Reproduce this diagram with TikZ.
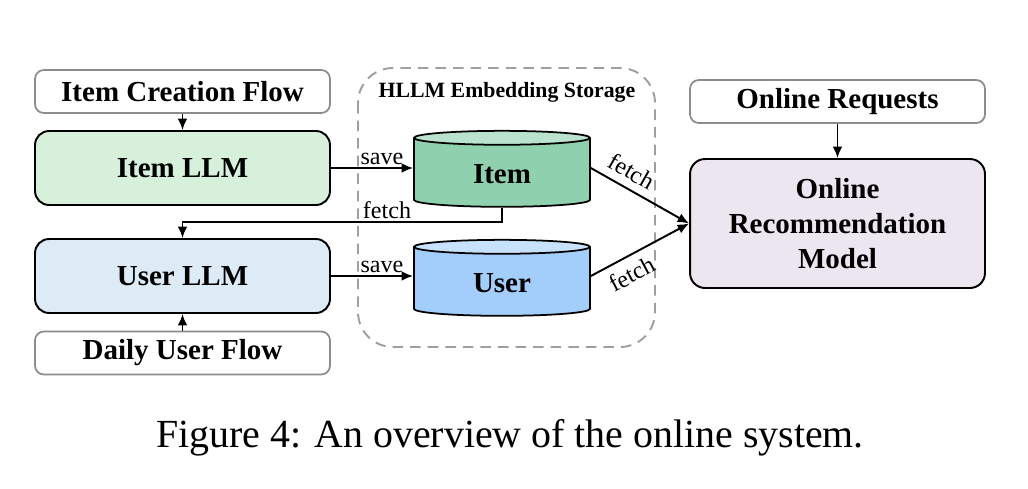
\documentclass[tikz,border=0pt]{standalone}
\usepackage{fontspec}
\setmainfont{Liberation Serif}
\usetikzlibrary{arrows.meta,shapes.geometric,calc}
\definecolor{itemfill}{RGB}{214,240,219}
\definecolor{userfill}{RGB}{221,235,247}
\definecolor{modelfill}{RGB}{236,230,240}
\definecolor{itembody}{RGB}{143,208,175}
\definecolor{itemtop}{RGB}{186,227,207}
\definecolor{userbody}{RGB}{163,206,252}
\definecolor{usertop}{RGB}{199,226,252}
\begin{document}
\begin{tikzpicture}[x=0.02cm,y=-0.02cm,>={Latex[length=6.5pt,width=5.5pt]},
  flow/.style={draw=gray!90,line width=1pt,rounded corners=5pt,fill=white,
    minimum width=5.9cm,minimum height=0.86cm,font=\fontsize{16.5}{19}\selectfont\bfseries},
  llm/.style={draw=black,line width=1.1pt,rounded corners=8pt,
    minimum width=5.9cm,minimum height=1.48cm,font=\fontsize{16.5}{19}\selectfont\bfseries},
  db/.style={cylinder,shape border rotate=90,aspect=0.2,draw,line width=1pt,
    minimum width=3.52cm,minimum height=1.52cm,cylinder uses custom fill,
    font=\fontsize{16.5}{19}\selectfont\bfseries},
  lbl/.style={font=\fontsize{13.7}{16}\selectfont,inner sep=1.5pt},
  conn/.style={line width=1.1pt,->}]
  \useasboundingbox (0,0) rectangle (1028,488);
  % storage frame
  \draw[gray!75,line width=1.1pt,dash pattern=on 6pt off 4pt,rounded corners=0.7cm]
    (358,68) rectangle (655,347);
  \node[font=\fontsize{12.4}{15}\selectfont\bfseries] (storage) at (507,92) {HLLM Embedding Storage};
  % left column
  \node[flow] (itemflow) at (182.5,91.5) {Item Creation Flow};
  \node[llm,fill=itemfill] (itemllm) at (182.5,168) {Item LLM};
  \node[llm,fill=userfill] (userllm) at (182.5,276) {User LLM};
  \node[flow] (userflow) at (182.5,353) {Daily User Flow};
  % databases
  \node[db,cylinder body fill=itembody,cylinder end fill=itemtop] (item) at (502,174) {Item};
  \node[db,cylinder body fill=userbody,cylinder end fill=usertop] (user) at (502,283) {User};
  % right column
  \node[flow] (requests) at (837.5,101.5) {Online Requests};
  \node[llm,fill=modelfill,minimum height=2.58cm,rounded corners=0.3cm,align=center,
    font=\fontsize{16.5}{19.9}\selectfont\bfseries] (model) at (837.5,223.5)
    {Online\\Recommendation\\Model};
  % connectors
  \draw[conn] (itemflow) -- (itemllm);
  \draw[conn] (userflow) -- (userllm);
  \draw[conn] (requests) -- (model);
  \draw[conn] (itemllm.east) -- node[lbl,above,pos=0.62] {save} (itemllm.east -| item.west);
  \draw[conn] (userllm.east) -- node[lbl,above,pos=0.62] {save} (userllm.east -| user.west);
  \draw[conn] (item.south) |- node[lbl,above,pos=0.68] {fetch}
    ($(itemllm.south)!0.5!(userllm.north)$) -- (userllm.north);
  \draw[conn] (itemllm.east -| item.east) -- node[lbl,above,sloped,pos=0.33,inner sep=4.5pt] {fetch} (model.west);
  \draw[conn] (userllm.east -| user.east) -- node[lbl,below,sloped,pos=0.33,inner sep=4.5pt] {fetch} (model.west);
  % caption
  \node[font=\fontsize{22.7}{27}\selectfont] (caption) at (510,438)
    {Figure 4: An overview of the online system.};
\end{tikzpicture}
\end{document}
